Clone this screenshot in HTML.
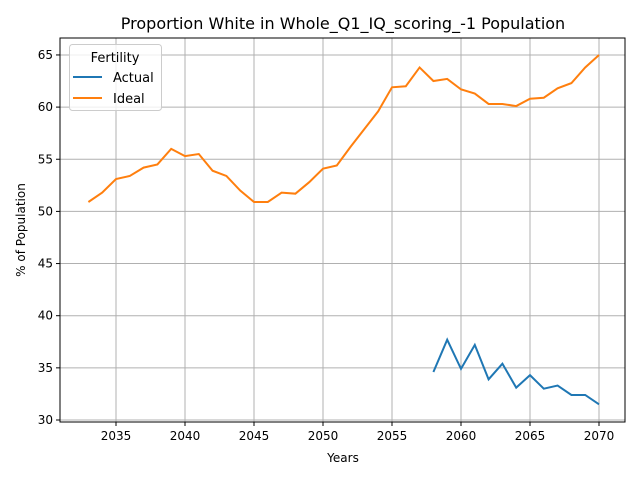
<!DOCTYPE html>
<html><head><meta charset="utf-8"><style>
body{margin:0;background:#fff;font-family:"Liberation Sans","DejaVu Sans",sans-serif;}
svg text{font-family:"DejaVu Sans","Liberation Sans",sans-serif;}
</style></head><body>
<svg id="c" width="640" height="480" xmlns="http://www.w3.org/2000/svg"></svg>
<script>
const years = Array.from({length:38},(_,i)=>2033+i);
const idealValues = [50.9,51.8,53.1,53.4,54.2,54.5,56.0,55.3,55.5,53.9,53.4,52.0,50.9,50.9,51.8,51.7,52.8,54.1,54.4,56.2,57.9,59.6,61.9,62.0,63.8,62.5,62.7,61.7,61.3,60.3,60.3,60.1,60.8,60.9,61.8,62.3,63.8,65.0];
const actualYears = [2058,2059,2060,2061,2062,2063,2064,2065,2066,2067,2068,2069,2070];
const actualValues = [34.6,37.7,34.9,37.2,33.9,35.4,33.1,34.3,33.0,33.3,32.4,32.4,31.5];
const xTicks = [2035,2040,2045,2050,2055,2060,2065,2070];
const yTicks = [30,35,40,45,50,55,60,65];

const svg=document.getElementById('c');const NS='http://www.w3.org/2000/svg';
const L=60,R=625,T=38,B=422;
const xs=v=>116+(v-2035)*13.8;
const ys=v=>420-(v-30)*10.43;
function el(t,a,p){const e=document.createElementNS(NS,t);for(const k in a)e.setAttribute(k,a[k]);(p||svg).appendChild(e);return e;}
for(const t of xTicks){
  const g=el('line',{x1:xs(t),x2:xs(t),y1:T,y2:B,stroke:'#b0b0b0','stroke-width':1});
  
  
  el('line',{x1:xs(t),x2:xs(t),y1:B,y2:B+4,stroke:'#000'});
  const tx=el('text',{x:xs(t),y:B+18,'text-anchor':'middle','font-size':12});tx.textContent=t;
  
  
}
for(const t of yTicks){
  const g=el('line',{x1:L,x2:R,y1:ys(t),y2:ys(t),stroke:'#b0b0b0','stroke-width':1});
  
  
  el('line',{x1:L-4,x2:L,y1:ys(t),y2:ys(t),stroke:'#000'});
  const tx=el('text',{x:L-7,y:ys(t)+4,'text-anchor':'end','font-size':12});tx.textContent=t;
  
  
}
const ideal=el('polyline',{points:years.map((y,i)=>xs(y)+','+ys(idealValues[i])).join(' '),fill:'none',stroke:'#ff7f0e','stroke-width':2});


const act=el('polyline',{points:actualYears.map((y,i)=>xs(y)+','+ys(actualValues[i])).join(' '),fill:'none',stroke:'#1f77b4','stroke-width':2});


el('rect',{x:L,y:T,width:R-L,height:B-T,fill:'none',stroke:'#000','stroke-width':1});
</script>
<svg width="640" height="480" style="position:absolute;left:0;top:0" xmlns="http://www.w3.org/2000/svg">
<text x="343" y="29" text-anchor="middle" font-size="16">Proportion White in Whole_Q1_IQ_scoring_-1 Population</text>
<text x="343" y="462" text-anchor="middle" font-size="12">Years</text>
<text x="25" y="230" text-anchor="middle" font-size="12" transform="rotate(-90 25 230)">% of Population</text>
<g>
<rect x="69.5" y="44.5" width="92" height="66" rx="3" fill="#fff" fill-opacity="0.8" stroke="#ccc"/>
<text x="115" y="62" text-anchor="middle" font-size="13">Fertility</text>
<line x1="73" x2="102" y1="77" y2="77" stroke="#1f77b4" stroke-width="2"/>
<text x="113" y="82" font-size="13">Actual</text>
<line x1="73" x2="102" y1="98" y2="98" stroke="#ff7f0e" stroke-width="2"/>
<text x="113" y="103" font-size="13">Ideal</text>
</g>
</svg>
</body></html>
